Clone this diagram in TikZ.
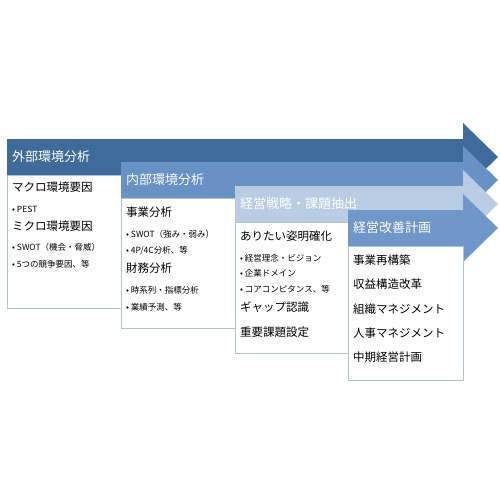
\documentclass[tikz,border=0pt]{standalone}
\usepackage{fontspec}
\setmainfont{Noto Sans CJK JP}
\definecolor{stageone}{HTML}{3E6B99}
\definecolor{stagetwo}{HTML}{6891C5}
\definecolor{stagethree}{HTML}{B9CCE4}
\definecolor{stagefour}{HTML}{6F97CA}
\definecolor{panelline}{HTML}{AFC2D6}
\begin{document}
\begin{tikzpicture}[x=1pt,y=-1pt,
		headtext/.style={anchor=west,inner sep=0pt,text=white,font=\fontsize{13}{15}\selectfont},
		itemtext/.style={anchor=west,inner sep=0pt,font=\fontsize{11.5}{13}\selectfont},
		pointtext/.style={anchor=west,inner sep=0pt,font=\fontsize{8.5}{10}\selectfont},
		panel/.style={draw=panelline,fill=white,line width=0.8pt,anchor=north west,inner sep=0pt}]
		\useasboundingbox [fill=white] (0,0) rectangle (500,500);
		
		% stage 1
		\fill [stageone] (7,139) -- (463,139) -- (463,123) -- (498,157) -- (463,191) -- (463,175) -- (7,175) -- cycle;
		\node [headtext] (headA) at (12,157) {外部環境分析};
		\node [panel,minimum width=114pt,minimum height=133pt] (panelA) at (7,175) {};
		\node [itemtext] (macro) at (12,187) {マクロ環境要因};
		\node [pointtext] (pest) at (12,209) {• PEST};
		\node [itemtext] (micro) at (12,226) {ミクロ環境要因};
		\node [pointtext] (swotA) at (12,247) {• SWOT（機会・脅威）};
		\node [pointtext] (forces) at (12,264) {• 5つの競争要因、等};
		
		% stage 2
		\fill [stagetwo] (121,162) -- (463,162) -- (463,146) -- (498,180) -- (463,214) -- (463,198) -- (121,198) -- cycle;
		\node [headtext] (headB) at (126,180) {内部環境分析};
		\node [panel,minimum width=114pt,minimum height=130pt] (panelB) at (121,198) {};
		\node [itemtext] (business) at (126,212) {事業分析};
		\node [pointtext] (swotB) at (126,234) {• SWOT（強み・弱み）};
		\node [pointtext] (mix) at (126,251) {• 4P/4C分析、等};
		\node [itemtext] (finance) at (126,268) {財務分析};
		\node [pointtext] (series) at (126,290) {• 時系列・指標分析};
		\node [pointtext] (forecast) at (126,307) {• 業績予測、等};
		
		% stage 3
		\fill [stagethree] (235,186) -- (463,186) -- (463,170) -- (498,204) -- (463,238) -- (463,222) -- (235,222) -- cycle;
		\node [headtext] (headC) at (240,204) {経営戦略・課題抽出};
		\node [panel,minimum width=113pt,minimum height=131pt] (panelC) at (235,222) {};
		\node [itemtext] (vision) at (240,236) {ありたい姿明確化};
		\node [pointtext] (philosophy) at (240,258) {• 経営理念・ビジョン};
		\node [pointtext] (domain) at (240,273) {• 企業ドメイン};
		\node [pointtext] (core) at (240,289) {• コアコンピタンス、等};
		\node [itemtext] (gap) at (240,307) {ギャップ認識};
		\node [itemtext] (issues) at (240,332) {重要課題設定};
		
		% stage 4
		\fill [stagefour] (348,210) -- (463,210) -- (463,194) -- (498,228) -- (463,262) -- (463,246) -- (348,246) -- cycle;
		\node [headtext] (headD) at (353,228) {経営改善計画};
		\node [panel,minimum width=115pt,minimum height=134pt] (panelD) at (348,246) {};
		\node [itemtext] (rebuild) at (353,260) {事業再構築};
		\node [itemtext] (profit) at (353,284) {収益構造改革};
		\node [itemtext] (organisation) at (353,309) {組織マネジメント};
		\node [itemtext] (personnel) at (353,333) {人事マネジメント};
		\node [itemtext] (midterm) at (353,357) {中期経営計画};
	\end{tikzpicture}
\end{document}
